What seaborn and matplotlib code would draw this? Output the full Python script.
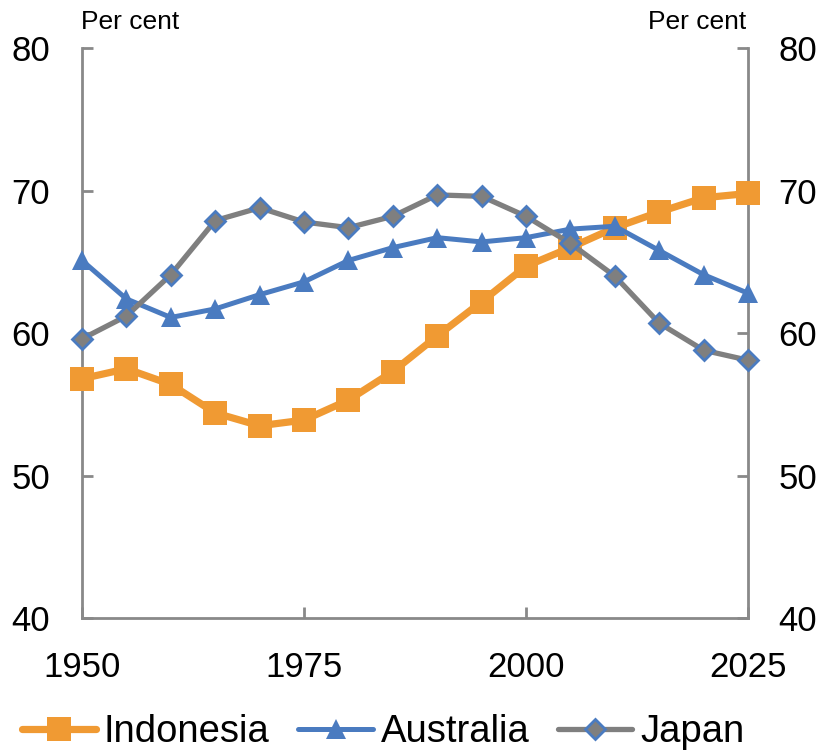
import matplotlib
matplotlib.use("Agg")
import matplotlib.pyplot as plt
import seaborn as sns
import pandas as pd

years = [1950, 1955, 1960, 1965, 1970, 1975, 1980, 1985, 1990, 1995,
         2000, 2005, 2010, 2015, 2020, 2025]
indonesia = [56.8, 57.5, 56.4, 54.4, 53.5, 53.9, 55.3, 57.3, 59.8, 62.2,
             64.7, 66.0, 67.4, 68.5, 69.5, 69.8]
australia = [65.1, 62.4, 61.1, 61.7, 62.7, 63.6, 65.1, 66.0, 66.7, 66.4,
             66.7, 67.3, 67.5, 65.8, 64.1, 62.8]
japan = [59.6, 61.2, 64.1, 67.9, 68.8, 67.8, 67.4, 68.2, 69.7, 69.6,
         68.2, 66.3, 64.0, 60.7, 58.8, 58.1]
x_ticks = [1950, 1975, 2000, 2025]
y_ticks = [40, 50, 60, 70, 80]

sns.set_theme(style="white")
plt.rcParams["font.family"] = ["Liberation Sans", "DejaVu Sans"]
plt.rcParams["text.color"] = "black"

df = pd.DataFrame({"year": years, "Indonesia": indonesia,
                   "Australia": australia, "Japan": japan})

fig = plt.figure(figsize=(8.21, 7.52), dpi=100)
ax = fig.add_axes([0.0999, 0.178, 0.8112, 0.758])

styles = {
    "Indonesia": dict(color="#F09A33", marker="s", markersize=17, linewidth=5.2,
                      markeredgecolor="#F09A33", markeredgewidth=0),
    "Australia": dict(color="#4A7BC0", marker="^", markersize=14, linewidth=3.6,
                      markeredgecolor="#4A7BC0", markeredgewidth=0),
    "Japan": dict(color="#7F7F7F", marker="D", markersize=10, linewidth=3.8,
                  markeredgecolor="#4A7BC0", markeredgewidth=2),
}
for name in ["Indonesia", "Australia", "Japan"]:
    sns.lineplot(data=df, x="year", y=name, ax=ax, label=name, clip_on=False,
                 **styles[name])

ax.set_xlim(1950, 2025)
ax.set_ylim(40, 80)
ax.set_xticks(x_ticks)
ax.set_yticks(y_ticks)
ax.set_xlabel("")
ax.set_ylabel("")

spine_color = "#898989"
for s in ax.spines.values():
    s.set_color(spine_color)
    s.set_linewidth(2)
    s.set_zorder(0.5)
ax.spines["top"].set_visible(False)

ax.tick_params(axis="both", direction="in", length=8, width=2, color=spine_color,
               labelsize=25, labelcolor="black")
ax.tick_params(axis="y", pad=23, right=False, left=True)
ax.tick_params(axis="x", pad=24, bottom=True)

ax2 = ax.twinx()
ax2.set_ylim(40, 80)
ax2.set_yticks(y_ticks)
for s in ax2.spines.values():
    s.set_visible(False)
ax2.tick_params(axis="y", direction="in", length=8, width=2, color=spine_color,
                labelsize=25, labelcolor="black", pad=22, right=True, left=False)
ax.set_zorder(ax2.get_zorder() + 1)
ax.patch.set_visible(False)

fig.text(0.099, 0.971, "Per cent", fontsize=19, ha="left", va="center")
fig.text(0.909, 0.971, "Per cent", fontsize=19, ha="right", va="center")

leg = ax.legend(loc="center", bbox_to_anchor=(0.452, -0.2), ncol=3,
                frameon=False, fontsize=27.5, handlelength=1.95, handletextpad=0.2,
                columnspacing=0.75, borderaxespad=0)
for t in leg.get_texts():
    t.set_color("black")

fig.savefig("out.png", dpi=100)
